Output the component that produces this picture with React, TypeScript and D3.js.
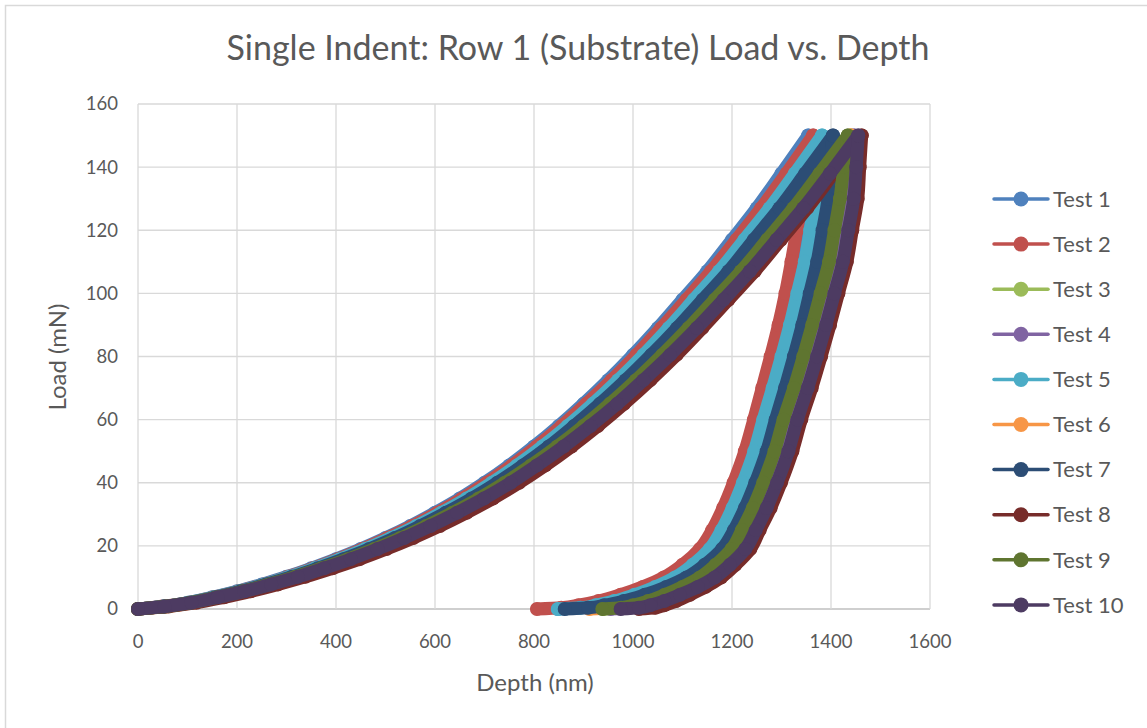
import React from "react";
import * as d3 from "d3";

// ---- data ----
const seriesNames = ["Test 1", "Test 2", "Test 3", "Test 4", "Test 5", "Test 6", "Test 7", "Test 8", "Test 9", "Test 10"];
const seriesColors = ["#4F81BD", "#C0504D", "#9BBB59", "#8064A2", "#4BACC6", "#F79646", "#2C4D75", "#772C2A", "#5F7530", "#4D3B62"];

// load levels (mN) sampled along loading and unloading
const loadUp = [0, 0.8, 2, 3.7, 5.6, 7.8, 10.2, 12.9, 15.8, 19, 22.5, 26.3, 30.5, 35, 40, 45.5, 51.5, 58, 65, 72.5, 80.5, 89, 98, 107, 117, 127, 138, 150];
const loadDown = [150, 140, 130, 120, 110, 100, 90, 80, 70, 60, 50, 40, 32, 25, 19, 14, 10, 7, 4.5, 2.5, 1.2, 0.4, 0];

// depth (nm) on loading, per test
const test1Up = [0, 50, 100, 150, 200, 250, 300, 350, 400, 450, 500, 550, 600, 650, 700, 750, 800, 850, 900, 950, 1000, 1050, 1100, 1150, 1200, 1250, 1300, 1354];
const test2Up = [0, 48, 103, 152, 203, 254, 303, 354, 404, 454, 504, 554, 605, 655, 705, 756, 806, 856, 906, 957, 1007, 1057, 1108, 1158, 1209, 1259, 1310, 1364];
const test3Up = [0, 55, 108, 160, 213, 266, 319, 372, 426, 479, 532, 585, 638, 692, 745, 798, 851, 904, 958, 1011, 1064, 1117, 1170, 1224, 1277, 1330, 1383, 1441];
const test4Up = [0, 53, 107, 161, 214, 267, 321, 374, 428, 481, 535, 588, 641, 695, 748, 802, 855, 909, 962, 1016, 1069, 1122, 1176, 1229, 1283, 1336, 1390, 1447];
const test5Up = [0, 51, 102, 153, 204, 255, 306, 357, 408, 459, 511, 562, 613, 664, 715, 766, 817, 868, 919, 970, 1021, 1072, 1123, 1174, 1225, 1276, 1327, 1382];
const test6Up = [0, 57, 110, 161, 214, 267, 320, 373, 426, 479, 532, 585, 638, 691, 744, 797, 850, 903, 957, 1010, 1063, 1116, 1169, 1222, 1275, 1328, 1381, 1440];
const test7Up = [0, 52, 104, 156, 207, 259, 311, 363, 415, 467, 519, 570, 622, 674, 726, 778, 830, 881, 933, 985, 1037, 1089, 1141, 1193, 1244, 1296, 1348, 1404];
const test8Up = [0, 62, 118, 174, 228, 283, 338, 393, 448, 502, 556, 610, 664, 717, 770, 823, 876, 929, 982, 1035, 1088, 1140, 1193, 1246, 1299, 1352, 1405, 1462];
const test9Up = [0, 54, 106, 159, 212, 265, 318, 371, 424, 477, 530, 582, 635, 688, 741, 794, 847, 900, 953, 1006, 1059, 1112, 1165, 1218, 1271, 1324, 1377, 1434];
const test10Up = [0, 54, 108, 161, 215, 269, 323, 376, 430, 484, 538, 591, 645, 699, 753, 806, 860, 914, 968, 1021, 1075, 1129, 1183, 1236, 1290, 1344, 1398, 1455];

// depth (nm) on unloading, per test
const test1Down = [1354, 1351, 1347, 1336, 1325, 1313, 1299, 1283, 1266, 1249, 1231, 1208, 1187, 1165, 1142, 1109, 1074, 1035, 995, 955, 921, 891, 848];
const test2Down = [1364, 1353, 1342, 1331, 1320, 1308, 1294, 1278, 1261, 1244, 1226, 1203, 1182, 1160, 1135, 1100, 1062, 1020, 975, 930, 890, 855, 806];
const test3Down = [1441, 1433, 1424, 1413, 1402, 1385, 1368, 1350, 1331, 1310, 1292, 1269, 1248, 1226, 1204, 1173, 1140, 1105, 1068, 1033, 1004, 979, 940];
const test4Down = [1447, 1442, 1437, 1426, 1415, 1398, 1381, 1363, 1344, 1323, 1305, 1282, 1261, 1239, 1218, 1186, 1154, 1119, 1082, 1048, 1018, 994, 955];
const test5Down = [1382, 1376, 1369, 1358, 1347, 1332, 1317, 1300, 1282, 1263, 1245, 1222, 1201, 1179, 1155, 1121, 1085, 1045, 1003, 962, 925, 894, 848];
const test6Down = [1440, 1422, 1404, 1393, 1382, 1367, 1352, 1335, 1317, 1298, 1280, 1257, 1236, 1214, 1192, 1159, 1125, 1089, 1050, 1013, 980, 953, 912];
const test7Down = [1404, 1399, 1394, 1383, 1372, 1357, 1342, 1325, 1307, 1288, 1270, 1247, 1226, 1204, 1180, 1145, 1108, 1067, 1024, 981, 942, 909, 862];
const test8Down = [1462, 1458, 1454, 1443, 1432, 1415, 1398, 1380, 1361, 1340, 1322, 1299, 1278, 1256, 1237, 1207, 1178, 1147, 1115, 1087, 1063, 1045, 1012];
const test9Down = [1434, 1426, 1418, 1407, 1396, 1379, 1362, 1344, 1325, 1304, 1286, 1263, 1242, 1220, 1199, 1167, 1135, 1100, 1064, 1030, 1000, 976, 938];
const test10Down = [1455, 1451, 1446, 1435, 1424, 1407, 1390, 1372, 1353, 1332, 1314, 1291, 1270, 1248, 1227, 1196, 1165, 1131, 1095, 1063, 1035, 1012, 975];

const upDepths = [test1Up, test2Up, test3Up, test4Up, test5Up, test6Up, test7Up, test8Up, test9Up, test10Up];
const downDepths = [test1Down, test2Down, test3Down, test4Down, test5Down, test6Down, test7Down, test8Down, test9Down, test10Down];

const xTicks = [0, 200, 400, 600, 800, 1000, 1200, 1400, 1600];
const yTicks = [0, 20, 40, 60, 80, 100, 120, 140, 160];

const titleText = "Single Indent: Row 1 (Substrate) Load vs. Depth";
const xTitle = "Depth (nm)";
const yTitle = "Load (mN)";

// ---- layout ----
const W = 1147;
const H = 728;
const plot = { left: 138, right: 930, top: 104, bottom: 609 };
const FONT = "Lato, 'Open Sans', sans-serif";
const TEXT = "#595959";
const GRID = "#D9D9D9";

export default function App() {
  const x = d3.scaleLinear().domain([0, 1600]).range([plot.left, plot.right]);
  const y = d3.scaleLinear().domain([0, 160]).range([plot.bottom, plot.top]);

  const line = d3
    .line<[number, number]>()
    .x((p) => x(p[0]))
    .y((p) => y(p[1]))
    .curve(d3.curveMonotoneY);

  const series = seriesNames.map((name, i) => {
    const up: [number, number][] = upDepths[i].map((d, k) => [d, loadUp[k]]);
    const down: [number, number][] = downDepths[i].map((d, k) => [d, loadDown[k]]);
    return { name, color: seriesColors[i], up, down };
  });

  const legendX = 994;
  const legendY0 = 199;
  const legendStep = 45.1;

  return (
    <svg
      width={W}
      height={H}
      style={{ position: "absolute", left: 0, top: 0, background: "#fff" }}
      fontFamily={FONT}
    >
      <rect x={0} y={0} width={W} height={H} fill="#fff" />
      <rect x={5.5} y={5.5} width={W + 10} height={H + 10} fill="none" stroke={GRID} strokeWidth={1.5} />

      <text x={578} y={60} textAnchor="middle" fontSize={34} fill={TEXT}>
        {titleText}
      </text>

      {/* gridlines */}
      {yTicks.map((t) => (
        <line key={"gy" + t} x1={plot.left} x2={plot.right} y1={y(t)} y2={y(t)} stroke={t === 0 ? "#BFBFBF" : GRID} strokeWidth={1.3} />
      ))}
      {xTicks.map((t) => (
        <line key={"gx" + t} x1={x(t)} x2={x(t)} y1={plot.top} y2={plot.bottom} stroke={GRID} strokeWidth={1.3} />
      ))}

      {/* tick labels */}
      {yTicks.map((t) => (
        <text key={"ty" + t} x={118} y={y(t)} dy="0.35em" textAnchor="end" fontSize={18.5} fill={TEXT}>
          {t}
        </text>
      ))}
      {xTicks.map((t) => (
        <text key={"tx" + t} x={x(t)} y={642} dy="0.35em" textAnchor="middle" fontSize={18.5} fill={TEXT}>
          {t}
        </text>
      ))}

      <text x={535} y={683} dy="0.35em" textAnchor="middle" fontSize={24} fill={TEXT}>
        {xTitle}
      </text>
      <text transform={`translate(58,357) rotate(-90)`} dy="0.35em" textAnchor="middle" fontSize={24} fill={TEXT}>
        {yTitle}
      </text>

      {/* series */}
      {series.map((s) => (
        <g key={s.name}>
          <path d={line(s.up) || ""} fill="none" stroke={s.color} strokeWidth={13} strokeLinejoin="round" strokeLinecap="round" />
          <path d={line(s.down.slice().reverse()) || ""} fill="none" stroke={s.color} strokeWidth={13} strokeLinejoin="round" strokeLinecap="round" />
          {s.up.concat(s.down).map((p, k) => (
            <circle key={k} cx={x(p[0])} cy={y(p[1])} r={7} fill={s.color} />
          ))}
        </g>
      ))}

      {/* legend */}
      {series.map((s, i) => {
        const ly = legendY0 + i * legendStep;
        return (
          <g key={"lg" + s.name}>
            <line x1={legendX} x2={legendX + 54} y1={ly} y2={ly} stroke={s.color} strokeWidth={3.5} strokeLinecap="round" />
            <circle cx={legendX + 27} cy={ly} r={7.5} fill={s.color} />
            <text x={legendX + 59} y={ly} dy="0.35em" fontSize={22} fill={TEXT}>
              {s.name}
            </text>
          </g>
        );
      })}
    </svg>
  );
}
